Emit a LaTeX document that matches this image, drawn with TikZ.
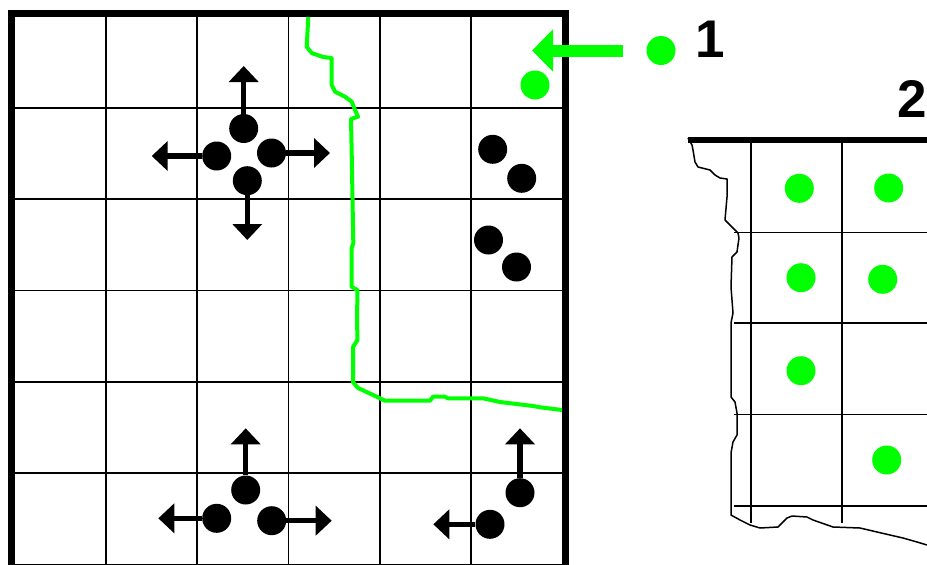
\documentclass[tikz,border=0pt]{standalone}
\usepackage{fontspec}
\setmainfont{Liberation Sans}
\usetikzlibrary{arrows.meta}
\definecolor{brightgreen}{RGB}{0,255,0}

\begin{document}
\begin{tikzpicture}[x=1pt,y=-1pt,
  gridline/.style={line width=1.6pt},
  dot/.style={circle,fill=black,inner sep=0pt,minimum size=29pt},
  gdot/.style={dot,fill=brightgreen},
  move/.style={line width=5.5pt,-{Triangle[length=16pt,width=29pt]}},
  lab/.style={inner sep=0pt,anchor=base,font=\fontsize{53}{53}\selectfont\bfseries}]
  \useasboundingbox (0,0) rectangle (927,565);
  % left field
  \foreach \i in {1,...,5} {
    \draw[gridline] (14.75+91.25*\i,16.5) -- (14.75+91.25*\i,565);
    \draw[gridline] (14.75,16.5+91.3*\i) -- (562.25,16.5+91.3*\i);
  }
  \draw[line width=7pt] (11.5,13.5) rectangle (565.5,567.5);
  % boundary
  \draw[brightgreen,line width=4pt,line join=round]
    (308.3,17) -- (306.7,46.7) -- (311.7,53) -- (323,57) -- (331.7,58) -- (331.7,85)
    -- (335,91.7) -- (345,96.7) -- (351.7,101.7) -- (355,110) -- (358,116.7) -- (351,119)
    -- (351.7,153) -- (353.3,243) -- (351.7,248) -- (351.7,287) -- (357.5,290) -- (357,320)
    -- (357.5,340) -- (353,347) -- (353,382) -- (358,388) -- (376.7,396.7) -- (385,400.7)
    -- (430,400.7) -- (433,396.7) -- (445,396.7) -- (448,398.3) -- (483,398.3) -- (500,402)
    -- (533,406) -- (540,407.3) -- (562,410);
  % moving groups
  \node[dot] (tn) at (243.7,128.5) {};
  \node[dot] (tw) at (216.7,156) {};
  \node[dot] (te) at (271.5,153) {};
  \node[dot] (ts) at (247.3,180.7) {};
  \coordinate (tnEnd) at (243.7,66);
  \coordinate (twEnd) at (151.7,156);
  \coordinate (teEnd) at (330,153);
  \coordinate (tsEnd) at (247.3,240);
  \draw[move] (tn) -- (tnEnd);
  \draw[move] (tw) -- (twEnd);
  \draw[move] (te) -- (teEnd);
  \draw[move] (ts) -- (tsEnd);
  \node[dot] (bn) at (245.7,490) {};
  \node[dot] (bw) at (216.7,518.3) {};
  \node[dot] (be) at (271.7,520.7) {};
  \coordinate (bnEnd) at (245.7,428.3);
  \coordinate (bwEnd) at (158.3,518.3);
  \coordinate (beEnd) at (331.7,520.7);
  \draw[move] (bn) -- (bnEnd);
  \draw[move] (bw) -- (bwEnd);
  \draw[move] (be) -- (beEnd);
  \node[dot] (rn) at (520,492.7) {};
  \node[dot] (rw) at (490,524.3) {};
  \coordinate (rnEnd) at (520,428.3);
  \coordinate (rwEnd) at (433.3,524.3);
  \draw[move] (rn) -- (rnEnd);
  \draw[move] (rw) -- (rwEnd);
  % resting pairs
  \node[dot] (k1) at (492.7,149.3) {};
  \node[dot] (k2) at (521.7,178.3) {};
  \node[dot] (k3) at (488.5,240) {};
  \node[dot] (k4) at (516.5,267) {};
  % newcomer
  \node[gdot] (g0) at (535,85) {};
  \node[gdot] (g1) at (661,50.5) {};
  \coordinate (g1End) at (532,50.5);
  \draw[brightgreen,line width=12pt,shorten <=23pt,-{Triangle[length=21pt,width=41pt]}] (g1) -- (g1End);
  \node[lab] (lab1) at (710.5,57) {1};
  % right field
  \foreach \y in {232.3,322.7,414.3,506}
    \draw[gridline] (734,\y) -- (927,\y);
  \foreach \x in {750.7,842}
    \draw[gridline] (\x,140) -- (\x,523);
  \draw[line width=1.5pt,line join=round]
    (688,138) -- (692,145) -- (693,150) -- (695,162) -- (698,167) -- (710,170) -- (715,175)
    -- (720,178) -- (727,179) -- (727,197) -- (725,220) -- (730,225) -- (738,233) -- (739,238)
    -- (737,252) -- (732,257) -- (731,287) -- (733,313) -- (731,323) -- (731,397) -- (735,402)
    -- (737,413) -- (737,435) -- (733,442) -- (731,453) -- (731,515) -- (740,520) -- (750,525)
    -- (760,528) -- (778,527) -- (787,518) -- (792,516) -- (807,517) -- (813,520) -- (833,527)
    -- (860,528) -- (877,532) -- (890,535) -- (903,538) -- (917,542) -- (927,545);
  \draw[line width=6pt] (688,140) -- (927,140);
  \node[lab] (lab2) at (912.5,117) {2};
  \node[gdot] (r1) at (799.3,188.3) {};
  \node[gdot] (r2) at (888.7,188) {};
  \node[gdot] (r3) at (801,277.7) {};
  \node[gdot] (r4) at (882.7,279.3) {};
  \node[gdot] (r5) at (801,370.7) {};
  \node[gdot] (r6) at (886.7,460) {};
\end{tikzpicture}
\end{document}
